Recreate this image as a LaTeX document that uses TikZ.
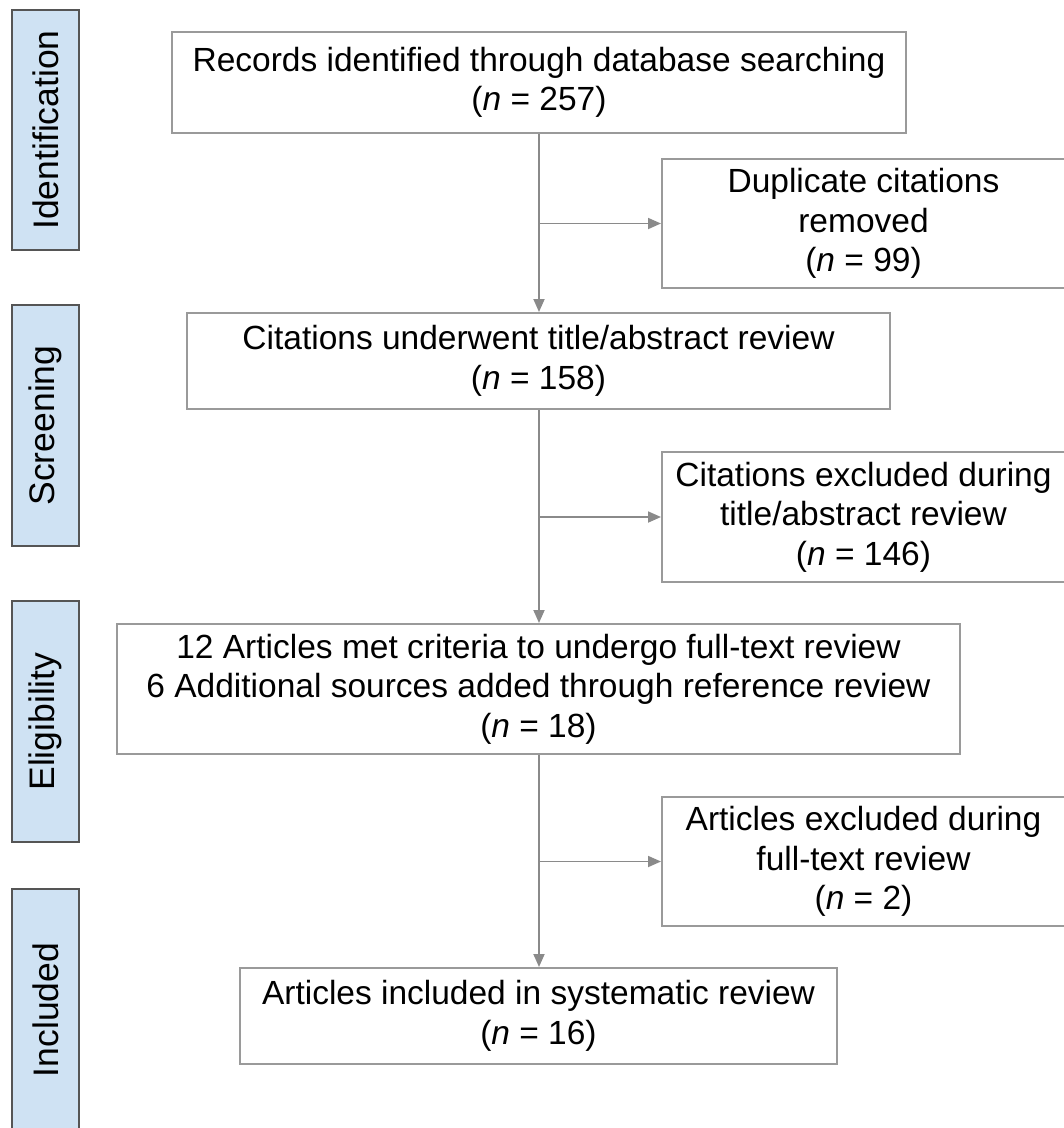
\documentclass[tikz,border=0pt]{standalone}
\usepackage{fontspec}
\setmainfont{Liberation Sans}
\usetikzlibrary{arrows.meta}
\definecolor{sidefill}{HTML}{CFE2F3}
\definecolor{sideline}{HTML}{555555}
\definecolor{boxline}{HTML}{9A9A9A}
\definecolor{arrowcol}{HTML}{8A8A8A}
\begin{document}
\begin{tikzpicture}[x=1pt,y=-1pt,
  box/.style={draw=boxline, line width=2pt, fill=white, align=center, inner sep=0pt,
    font=\fontsize{33.5}{39.5}\selectfont},
  side/.style={draw=sideline, line width=1.6pt, fill=sidefill, inner sep=0pt,
    minimum width=67pt},
  flow/.style={draw=arrowcol, line width=1.8pt, -{Triangle[length=13pt,width=11pt]}},
  sidetext/.style={rotate=90, font=\fontsize{35.5}{40}\selectfont, inner sep=0pt}
]
\useasboundingbox (0,0) rectangle (1064,1128);
% side phase labels
\node[side, minimum height=240pt] (s1) at (45.5,130) {};
\node[sidetext] (t1) at (s1.center) {Identification};
\node[side, minimum height=241pt] (s2) at (45.5,425.5) {};
\node[sidetext] (t2) at (s2.center) {Screening};
\node[side, minimum height=241pt] (s3) at (45.5,721.5) {};
\node[sidetext] (t3) at (s3.center) {Eligibility};
\node[side, minimum height=250pt] (s4) at (45.5,1014) {};
\node[sidetext] (t4) at (45.5,1010) {Included};
% main boxes
\node[box, minimum width=734pt, minimum height=101pt] (b1) at (539,82.5)
  {Records identified through database searching\\(\textit{n} = 257)};
\node[box, minimum width=403pt, minimum height=129pt] (b2) at (863.5,223.5)
  {Duplicate citations\\removed\\(\textit{n} = 99)};
\node[box, minimum width=703pt, minimum height=96pt] (b3) at (538.5,361)
  {Citations underwent title/abstract review\\(\textit{n} = 158)};
\node[box, minimum width=403pt, minimum height=130pt] (b4) at (863.5,517)
  {Citations excluded during\\title/abstract review\\(\textit{n} = 146)};
\node[box, minimum width=843pt, minimum height=130pt] (b5) at (538.5,689)
  {12 Articles met criteria to undergo full-text review\\6 Additional sources added through reference review\\(\textit{n} = 18)};
\node[box, minimum width=403pt, minimum height=129pt] (b6) at (863.5,861.5)
  {Articles excluded during\\full-text review\\(\textit{n} = 2)};
\node[box, minimum width=597pt, minimum height=96pt] (b7) at (538.5,1016)
  {Articles included in systematic review\\(\textit{n} = 16)};
% branch points
\coordinate (j1) at (539,223.5);
\coordinate (j2) at (539,517);
\coordinate (j3) at (539,861.5);
% connectors
\draw[flow] (b1.south -| j1) -- (b3.north -| j1);
\draw[flow] (b3.south -| j2) -- (b5.north -| j2);
\draw[flow] (b5.south -| j3) -- (b7.north -| j3);
\draw[flow] (j1) -- (b2.west);
\draw[flow] (j2) -- (b4.west);
\draw[flow] (j3) -- (b6.west);
\end{tikzpicture}
\end{document}
